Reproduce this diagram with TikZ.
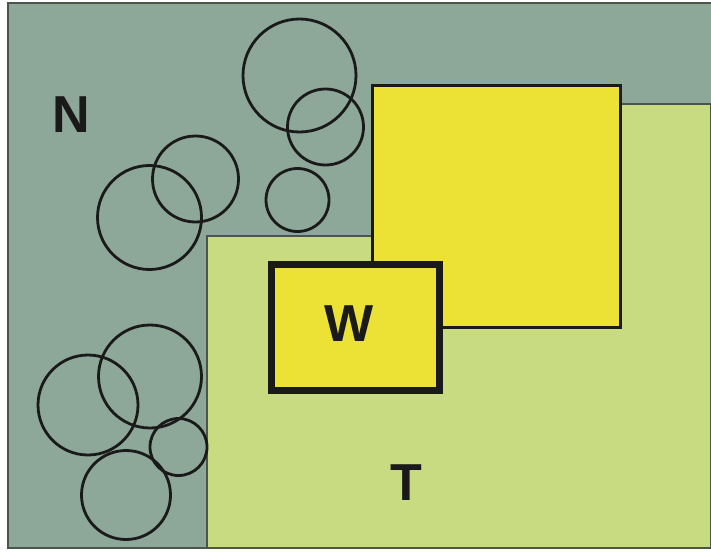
\documentclass[tikz,border=0pt]{standalone}
\usepackage{fontspec}
\setmainfont{Liberation Sans}
\definecolor{bggray}{HTML}{8DA898}
\definecolor{lgreen}{HTML}{C8DB80}
\definecolor{wyellow}{HTML}{ECE236}
\definecolor{edgegray}{HTML}{4A554C}
\definecolor{inkblack}{HTML}{1A1A1A}
\tikzset{
  tree/.style={draw=inkblack, line width=2.8pt},
  lbl/.style={font=\fontsize{52}{52}\selectfont\bfseries, text=inkblack, inner sep=0pt}
}
\begin{document}
\begin{tikzpicture}[x=1pt,y=-1pt]
\useasboundingbox (0,0) rectangle (711,551);
% background field N
\fill[bggray] (8,3) rectangle (711,548);
% light green field T
\filldraw[fill=lgreen, draw=edgegray, line width=2pt]
  (207,548) -- (207,236) -- (372,236) -- (372,104) -- (711,104) -- (711,548);
% large yellow block
\filldraw[fill=wyellow, draw=inkblack, line width=3pt] (372,85) rectangle (620,327);
% W block
\filldraw[fill=wyellow, draw=inkblack, line width=7pt] (271,264) rectangle (439,390);
% frame
\draw[edgegray, line width=2pt] (711,3) -- (8,3) -- (8,548) -- (711,548);
% trees
\draw[tree] (299.5,75.5) circle (56.5);
\draw[tree] (325.5,127) circle (38);
\draw[tree] (297.5,200) circle (31.5);
\draw[tree] (149.5,217.5) circle (52);
\draw[tree] (195.5,179) circle (43);
\draw[tree] (88,405) circle (50);
\draw[tree] (150,376.5) circle (51.5);
\draw[tree] (178.5,447) circle (28.5);
\draw[tree] (126,495) circle (44.5);
% labels
\node[lbl] (n) at (71,115) {N};
\node[lbl] (w) at (349,324) {W};
\node[lbl] (t) at (406,483) {T};
\end{tikzpicture}
\end{document}
